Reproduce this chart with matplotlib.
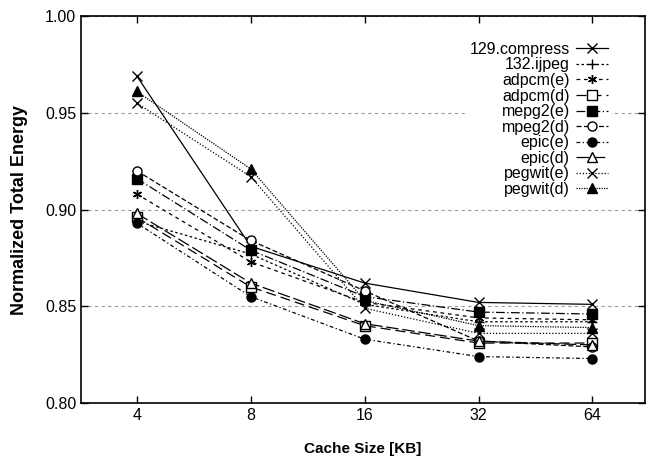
import matplotlib
matplotlib.use("Agg")
import matplotlib.pyplot as plt

plt.rcParams['font.family'] = ['Liberation Sans', 'DejaVu Sans']

cache_sizes = ['4', '8', '16', '32', '64']

compress = [0.969, 0.881, 0.862, 0.852, 0.851]
ijpeg = [0.894, 0.877, 0.851, 0.842, 0.842]
adpcm_e = [0.908, 0.873, 0.852, 0.844, 0.843]
adpcm_d = [0.896, 0.860, 0.840, 0.831, 0.831]
mpeg2_e = [0.916, 0.879, 0.855, 0.847, 0.846]
mpeg2_d = [0.920, 0.884, 0.858, 0.832, 0.829]
epic_e = [0.893, 0.855, 0.833, 0.824, 0.823]
epic_d = [0.898, 0.862, 0.841, 0.832, 0.830]
pegwit_e = [0.955, 0.917, 0.849, 0.836, 0.836]
pegwit_d = [0.961, 0.921, 0.853, 0.840, 0.839]

series = [
    ('129.compress', compress, '-', 'x', 'k'),
    ('132.ijpeg', ijpeg, (0, (2, 2)), '+', 'k'),
    ('adpcm(e)', adpcm_e, (0, (3, 3)), (6, 2, 0), 'k'),
    ('adpcm(d)', adpcm_d, (0, (8, 4)), 's', 'white'),
    ('mepg2(e)', mpeg2_e, (0, (7, 2, 1, 2)), 's', 'k'),
    ('mpeg2(d)', mpeg2_d, (0, (4, 2)), 'o', 'white'),
    ('epic(e)', epic_e, (0, (3, 2, 1, 2)), 'o', 'k'),
    ('epic(d)', epic_d, (0, (10, 3)), '^', 'white'),
    ('pegwit(e)', pegwit_e, (0, (1, 1.5)), 'x', 'k'),
    ('pegwit(d)', pegwit_d, (0, (1, 1)), '^', 'k'),
]

fig = plt.figure(figsize=(6.5, 4.58), dpi=100)
ax = fig.add_axes([0.1246, 0.12, 0.8674, 0.845])

xs = range(len(cache_sizes))
for label, vals, ls, mk, fc in series:
    ax.plot(xs, vals, color='k', linestyle=ls, linewidth=0.9, marker=mk,
            markersize=6.5, markerfacecolor=fc, markeredgecolor='k',
            markeredgewidth=1.0, label=label)

ax.set_xlim(-0.49, 4.46)
ax.set_ylim(0.80, 1.00)
ax.set_xticks(list(xs))
ax.set_xticklabels(cache_sizes)
ax.set_yticks([0.80, 0.85, 0.90, 0.95, 1.00])
ax.set_yticklabels(['0.80', '0.85', '0.90', '0.95', '1.00'])
ax.tick_params(direction='in', top=True, right=True, labelsize=11.5, length=5, width=1)
ax.yaxis.grid(True, linestyle=(0, (3, 3)), color='#999999', linewidth=0.8)
for s in ax.spines.values():
    s.set_linewidth(1.2)

ax.set_xlabel('Cache Size [KB]', fontsize=11, fontweight='bold', labelpad=14)
ax.set_ylabel('Normalized Total Energy', fontsize=13, fontweight='bold', labelpad=12)

leg = ax.legend(loc='upper right', bbox_to_anchor=(0.952, 0.958), markerfirst=False,
                fontsize=11.5, handlelength=2.0, labelspacing=0.035, borderpad=0.1,
                handletextpad=0.4, frameon=True, framealpha=1, fancybox=False)
leg.get_frame().set_edgecolor('white')
for t in leg.get_texts():
    t.set_ha('right')
leg._legend_box.align = 'right'

fig.savefig('out.png', dpi=100)
